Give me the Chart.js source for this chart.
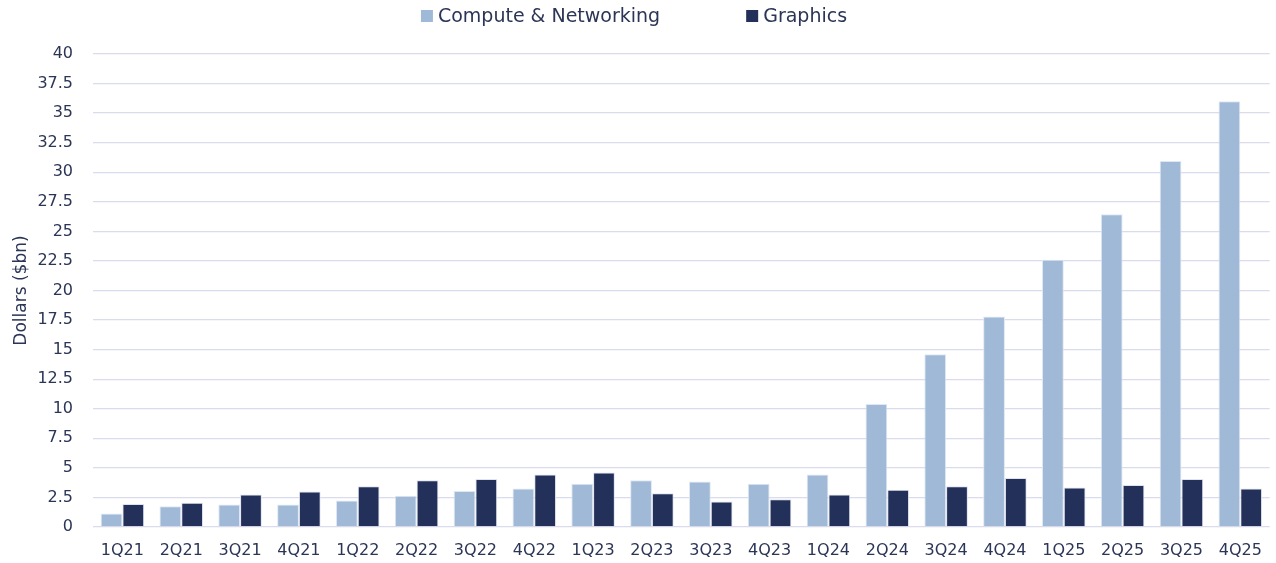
<!DOCTYPE html>
<html>
<head>
<meta charset="utf-8">
<script src="https://cdn.jsdelivr.net/npm/chart.js@4.4.1/dist/chart.umd.min.js"></script>
<style>
  html, body { margin: 0; padding: 0; background: #ffffff; }
  #wrap { width: 1276px; height: 563px; position: relative; }
</style>
</head>
<body>
<div id="wrap"><canvas id="chart"></canvas></div>
<script>
// Datos
const quarters = ["1Q21", "2Q21", "3Q21", "4Q21", "1Q22", "2Q22", "3Q22", "4Q22", "1Q23", "2Q23",
  "3Q23", "4Q23", "1Q24", "2Q24", "3Q24", "4Q24", "1Q25", "2Q25", "3Q25", "4Q25"];
const computeNetworking = [1.15, 1.75, 1.9, 1.9, 2.25, 2.65, 3.05, 3.25, 3.65, 3.95,
  3.85, 3.65, 4.45, 10.4, 14.6, 17.8, 22.6, 26.45, 30.95, 36.0];
const graphics = [1.95, 2.05, 2.75, 3.0, 3.45, 3.95, 4.05, 4.45, 4.6, 2.85,
  2.15, 2.35, 2.75, 3.15, 3.45, 4.15, 3.35, 3.55, 4.05, 3.25];
const yMax = 40;
const yStep = 2.5;

const FONT = "'DejaVu Sans', sans-serif";
const TEXT = "#2b3556";
const GRID = "#d9dcec";

// Leyenda dibujada arriba, centrada
const topLegend = {
  id: "topLegend",
  afterDraw(chart) {
    const ctx = chart.ctx;
    const items = chart.data.datasets.map((ds) => ({ text: ds.label, color: ds.backgroundColor }));
    const box = 12, gap = 5, spacing = 86;
    ctx.save();
    ctx.font = "19px " + FONT;
    const widths = items.map((it) => box + gap + ctx.measureText(it.text).width);
    const total = widths.reduce((a, b) => a + b, 0) + spacing * (items.length - 1);
    let x = (chart.width - total) / 2 - 4;
    const y = 16;
    items.forEach((it, i) => {
      ctx.fillStyle = it.color;
      ctx.fillRect(x, y - box / 2, box, box);
      ctx.fillStyle = TEXT;
      ctx.textBaseline = "middle";
      ctx.textAlign = "left";
      ctx.fillText(it.text, x + box + gap, y + 1);
      x += widths[i] + spacing;
    });
    ctx.restore();
  },
};

const ctx = document.getElementById("chart").getContext("2d");
new Chart(ctx, {
  type: "bar",
  data: {
    labels: quarters,
    datasets: [
      {
        label: "Compute & Networking",
        data: computeNetworking,
        backgroundColor: "#9fb9d6",
        borderColor: "#dfe7f2",
        borderWidth: 1,
        categoryPercentage: 0.74,
        barPercentage: 1.0,
      },
      {
        label: "Graphics",
        data: graphics,
        backgroundColor: "#22305a",
        borderColor: "#dfe3ee",
        borderWidth: 1,
        categoryPercentage: 0.74,
        barPercentage: 1.0,
      },
    ],
  },
  options: {
    responsive: true,
    maintainAspectRatio: false,
    animation: false,
    layout: { padding: { top: 54, right: 6, left: 0, bottom: 0 } },
    plugins: {
      legend: { display: false },
      tooltip: { enabled: false },
    },
    scales: {
      x: {
        afterFit: (scale) => { scale.height = 36; },
        grid: { display: false, drawTicks: false },
        border: { display: false },
        ticks: { color: TEXT, font: { family: FONT, size: 16 }, padding: 14, maxRotation: 0, autoSkip: false },
      },
      y: {
        min: 0,
        max: yMax,
        afterFit: (scale) => { scale.width = 93; },
        grid: { color: GRID, lineWidth: 1.3, drawTicks: false },
        border: { display: false },
        ticks: { stepSize: yStep, color: TEXT, font: { family: FONT, size: 16 }, padding: 20 },
        title: {
          display: true,
          text: "Dollars ($bn)",
          color: TEXT,
          font: { family: FONT, size: 17 },
          padding: { top: 11, bottom: 4 },
        },
      },
    },
  },
  plugins: [topLegend],
});
</script>
</body>
</html>
